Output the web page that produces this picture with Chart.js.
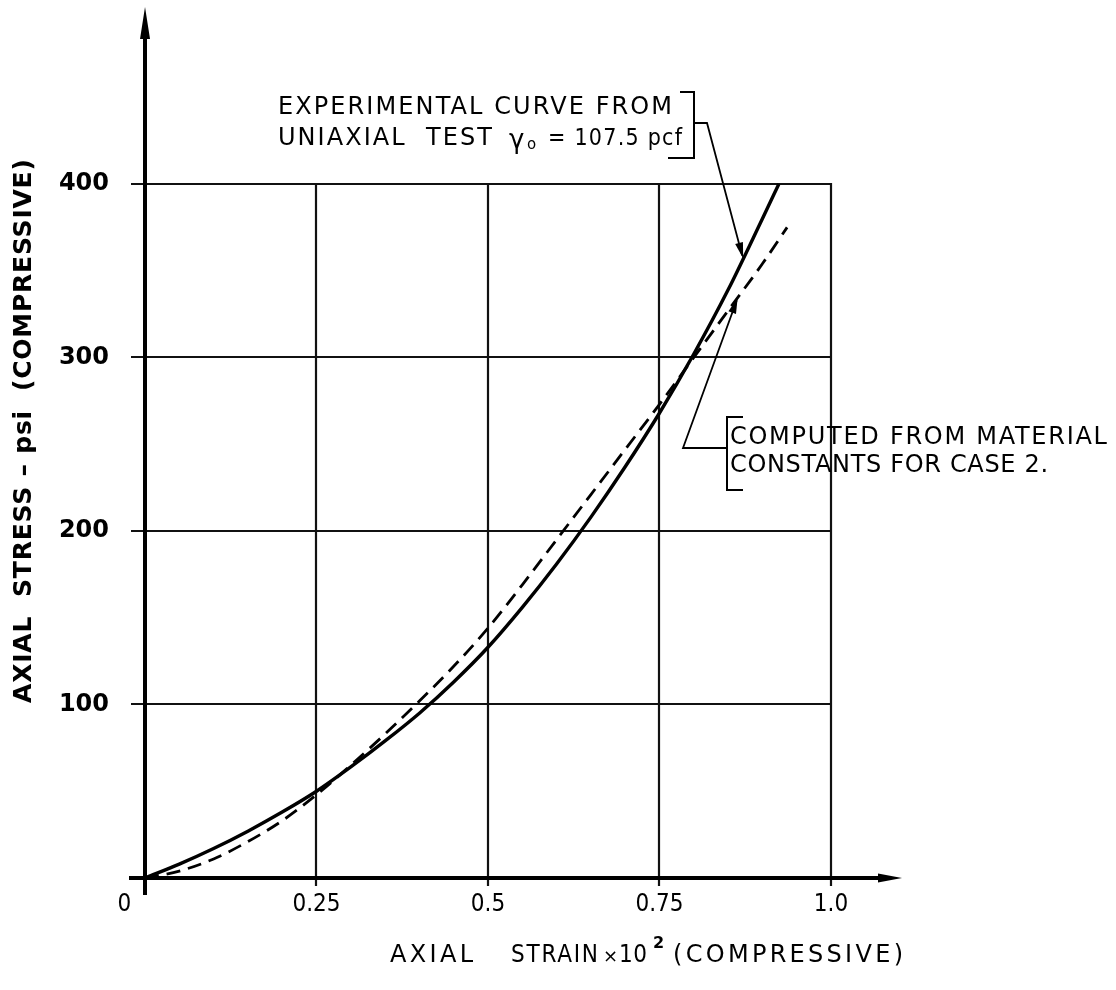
<!DOCTYPE html>
<html lang="en">
<head>
<meta charset="utf-8">
<title>Axial stress versus axial strain</title>
<script src="https://cdn.jsdelivr.net/npm/chart.js@4.4.1/dist/chart.umd.min.js"></script>
<style>
  html, body { margin: 0; padding: 0; background: #ffffff; }
  #frame { width: 1116px; height: 990px; }
  canvas { display: block; }
</style>
</head>
<body>
<div id="frame"><canvas id="stressStrain" width="1116" height="990"></canvas></div>
<script>
// Axis ticks (strain x 10^2, stress in psi)
const strainTicks = [0, 0.25, 0.5, 0.75, 1.0];
const strainTickLabels = ['0', '0.25', '0.5', '0.75', '1.0'];
const stressTicks = [100, 200, 300, 400];
const stressTickLabels = ['100', '200', '300', '400'];

// Experimental curve, uniaxial test (solid)
const experimentalStrain = [0, 0.05, 0.10, 0.15, 0.20, 0.25, 0.30, 0.35, 0.40, 0.45, 0.50, 0.55, 0.60, 0.65, 0.70, 0.75, 0.80, 0.85, 0.90, 0.924];
const experimentalStress = [0, 8, 17, 27, 38, 50, 64, 79, 95, 113, 133, 156, 181, 208, 237, 268, 302, 339, 380, 400];

// Curve computed from material constants, case 2 (dashed)
const computedStrain = [0, 0.05, 0.10, 0.15, 0.20, 0.25, 0.30, 0.35, 0.40, 0.45, 0.50, 0.55, 0.60, 0.65, 0.70, 0.75, 0.80, 0.85, 0.90, 0.936];
const computedStress = [0, 4, 11, 21, 33, 48, 65, 83, 102, 122, 144, 169, 195, 221, 247, 273, 300, 327, 354, 375];

const INK = '#000000';
const FONT = 'DejaVu Sans';
const NARROW = "'DejaVu Sans Condensed', 'DejaVu Sans'";

function toPoints(xs, ys) {
  return xs.map((v, i) => ({ x: v, y: ys[i] }));
}

// Linear lookup along a curve, used to land the leader arrows on the lines.
function valueAt(xs, ys, v) {
  for (let i = 1; i < xs.length; i++) {
    if (v <= xs[i]) {
      const t = (v - xs[i - 1]) / (xs[i] - xs[i - 1]);
      return ys[i - 1] + t * (ys[i] - ys[i - 1]);
    }
  }
  return ys[ys.length - 1];
}

// Draws a line of lettering stretched evenly between x0 and x1.
function spaced(ctx, text, x0, x1, yMid, font) {
  ctx.font = font;
  ctx.textAlign = 'left';
  ctx.textBaseline = 'middle';
  if ('letterSpacing' in ctx) ctx.letterSpacing = '0px';
  const n = [...text].length;
  const w = ctx.measureText(text).width;
  if ('letterSpacing' in ctx && n > 1) {
    ctx.letterSpacing = ((x1 - x0 - w) / (n - 1)).toFixed(2) + 'px';
    ctx.fillText(text, x0, yMid);
    ctx.letterSpacing = '0px';
  } else {
    ctx.fillText(text, x0, yMid);
  }
}

function arrowHead(ctx, fromX, fromY, tipX, tipY, len, half) {
  const a = Math.atan2(tipY - fromY, tipX - fromX);
  const bx = tipX - len * Math.cos(a), by = tipY - len * Math.sin(a);
  ctx.beginPath();
  ctx.moveTo(tipX, tipY);
  ctx.lineTo(bx + half * Math.sin(a), by - half * Math.cos(a));
  ctx.lineTo(bx - half * Math.sin(a), by + half * Math.cos(a));
  ctx.closePath();
  ctx.fill();
}

function polyline(ctx, pts) {
  ctx.beginPath();
  ctx.moveTo(pts[0][0], pts[0][1]);
  for (let i = 1; i < pts.length; i++) ctx.lineTo(pts[i][0], pts[i][1]);
  ctx.stroke();
}

const drafting = {
  id: 'drafting',
  beforeDatasetsDraw(chart) {
    const { ctx, chartArea, scales: { x, y } } = chart;
    const x0 = x.getPixelForValue(0);
    const y0 = Math.round(y.getPixelForValue(0));
    const xLast = x.getPixelForValue(strainTicks[strainTicks.length - 1]);
    const yLast = y.getPixelForValue(stressTicks[stressTicks.length - 1]);
    ctx.save();
    // grid box, limited to 0..1.0 and 0..400
    ctx.strokeStyle = '#111111';
    ctx.lineWidth = 2.2;
    stressTicks.forEach(v => {
      const py = Math.round(y.getPixelForValue(v));
      ctx.beginPath(); ctx.moveTo(x0 - 14, py); ctx.lineTo(xLast + 1, py); ctx.stroke();
    });
    strainTicks.slice(1).forEach(v => {
      const px = Math.round(x.getPixelForValue(v));
      ctx.beginPath(); ctx.moveTo(px, y0 + 8); ctx.lineTo(px, yLast - 1); ctx.stroke();
    });
    // main axes with arrow heads
    ctx.strokeStyle = INK;
    ctx.fillStyle = INK;
    ctx.lineWidth = 4;
    ctx.beginPath(); ctx.moveTo(x0, y0 + 17); ctx.lineTo(x0, chartArea.top + 24); ctx.stroke();
    arrowHead(ctx, x0, y0, x0, chartArea.top, 32, 5);
    ctx.beginPath(); ctx.moveTo(x0 - 16, y0); ctx.lineTo(chartArea.right - 16, y0); ctx.stroke();
    arrowHead(ctx, x0, y0, chartArea.right, y0, 24, 4.5);
    ctx.restore();
  },
  afterDraw(chart) {
    const { ctx, scales: { x, y } } = chart;
    ctx.save();
    ctx.fillStyle = INK;
    ctx.strokeStyle = INK;

    // axis titles
    ctx.save();
    ctx.translate(24, 431);
    ctx.rotate(-Math.PI / 2);
    spaced(ctx, 'AXIAL  STRESS \u2013 psi  (COMPRESSIVE)', -272, 272, 0, 'bold 25px ' + FONT);
    ctx.restore();

    const ty = 956;
    spaced(ctx, 'AXIAL', 390, 473, ty, '24px ' + FONT);
    spaced(ctx, 'STRAIN', 511, 598, ty, '24px ' + NARROW);
    spaced(ctx, '\u00d7', 603, 613, ty + 1, '18px ' + FONT);
    spaced(ctx, '10', 619, 647, ty, '24px ' + NARROW);
    spaced(ctx, '2', 653, 663, ty - 12, 'bold 16px ' + FONT);
    spaced(ctx, '(COMPRESSIVE)', 673, 903, ty, '24px ' + FONT);

    // note on the experimental curve
    spaced(ctx, 'EXPERIMENTAL CURVE FROM', 278, 672, 108, '24px ' + FONT);
    spaced(ctx, 'UNIAXIAL  TEST', 278, 492, 139, '24px ' + FONT);
    spaced(ctx, '\u03b3', 509, 525, 141, '26px ' + FONT);
    spaced(ctx, 'o', 527, 535, 145, '15px ' + FONT);
    spaced(ctx, '= 107.5 pcf', 548, 682, 139, '23px ' + NARROW);

    ctx.lineWidth = 2;
    polyline(ctx, [[680, 92], [694, 92], [694, 158], [668, 158]]);
    const s1 = 0.872;
    const t1 = [x.getPixelForValue(s1), y.getPixelForValue(valueAt(experimentalStrain, experimentalStress, s1))];
    ctx.lineWidth = 1.8;
    polyline(ctx, [[694, 123], [707, 123], [t1[0] - 1, t1[1] - 3]]);
    arrowHead(ctx, 707, 123, t1[0], t1[1], 16, 4);

    // note on the computed curve
    spaced(ctx, 'COMPUTED FROM MATERIAL', 730, 1107, 438, '24px ' + FONT);
    spaced(ctx, 'CONSTANTS FOR CASE 2.', 730, 1048, 466, '24px ' + FONT);
    ctx.lineWidth = 2;
    polyline(ctx, [[743, 417], [727, 417], [727, 490], [743, 490]]);
    const s2 = 0.864;
    const t2 = [x.getPixelForValue(s2), y.getPixelForValue(valueAt(computedStrain, computedStress, s2))];
    ctx.lineWidth = 1.8;
    polyline(ctx, [[727, 448], [683, 448], [t2[0] - 1, t2[1] + 3]]);
    arrowHead(ctx, 683, 448, t2[0], t2[1], 16, 4);

    ctx.restore();
  }
};

new Chart(document.getElementById('stressStrain'), {
  type: 'line',
  data: {
    datasets: [
      {
        label: 'Experimental curve from uniaxial test',
        data: toPoints(experimentalStrain, experimentalStress),
        borderColor: INK,
        borderWidth: 3.4,
        pointRadius: 0,
        fill: false,
        cubicInterpolationMode: 'monotone'
      },
      {
        label: 'Computed from material constants for case 2',
        data: toPoints(computedStrain, computedStress),
        borderColor: INK,
        borderWidth: 2.8,
        borderDash: [14, 8],
        pointRadius: 0,
        fill: false,
        cubicInterpolationMode: 'monotone'
      }
    ]
  },
  options: {
    responsive: false,
    animation: false,
    devicePixelRatio: 1,
    layout: { padding: { top: 7, right: 214, left: 0, bottom: 0 } },
    plugins: { legend: { display: false }, tooltip: { enabled: false }, title: { display: false } },
    scales: {
      x: {
        type: 'linear',
        min: 0,
        max: 1.1035,
        grid: { display: false, drawTicks: false },
        border: { display: false },
        afterBuildTicks: s => { s.ticks = strainTicks.map(v => ({ value: v })); },
        afterFit: s => { s.height = 112; s.paddingLeft = 0; s.paddingRight = 0; },
        ticks: {
          autoSkip: false,
          maxRotation: 0,
          padding: 12,
          color: INK,
          font: { family: NARROW, size: 24 },
          callback: (v, i) => i === 0 ? strainTickLabels[i] + '\u2007\u2007\u2007' : strainTickLabels[i]
        }
      },
      y: {
        type: 'linear',
        min: 0,
        max: 502,
        grid: { display: false, drawTicks: false },
        border: { display: false },
        afterBuildTicks: s => { s.ticks = stressTicks.map(v => ({ value: v })); },
        afterFit: s => { s.width = 145; s.paddingTop = 0; s.paddingBottom = 0; },
        ticks: {
          autoSkip: false,
          padding: 36,
          color: INK,
          font: { family: FONT, size: 24, weight: 'bold' },
          callback: (v, i) => stressTickLabels[i]
        }
      }
    }
  },
  plugins: [drafting]
});
</script>
</body>
</html>
